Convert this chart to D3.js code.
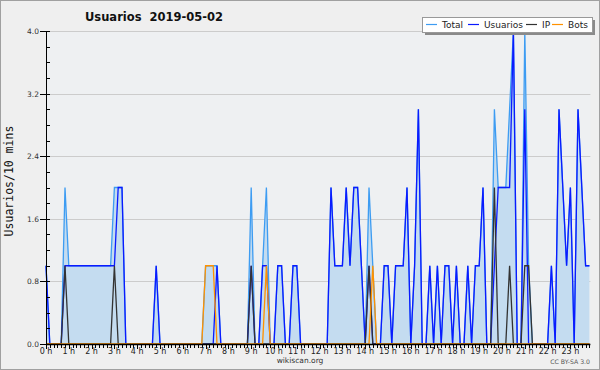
<!DOCTYPE html>
<html>
<head>
<meta charset="utf-8">
<script src="https://cdn.jsdelivr.net/npm/d3@7/dist/d3.min.js"></script>
<style>
body { margin: 0; background: #efefef; }
</style>
</head>
<body>
<div id="chart"></div>
<script>
// one value per 10 minutes, 12 per row = 2 hours
var total = [
  1,0,0,0,0,2,1,1,1,1,1,1,
  1,1,1,1,1,1,2,2,2,0,0,0,
  0,0,0,0,0,1,0,0,0,0,0,0,
  0,0,0,0,0,0,1,1,1,1,0,0,
  0,0,0,0,0,0,2,0,0,1,2,0,
  0,1,1,0,0,1,1,0,0,0,0,0,
  0,0,0,2,1,1,1,2,1,2,2,1,
  0,2,1,0,0,1,1,0,1,1,1,2,
  0,1,3,0,0,1,0,1,0,1,1,0,
  1,0,0,1,0,1,1,2,0,0,3,2,
  2,2,3,4,0,0,4,1,0,0,0,0,
  0,1,0,3,2,1,2,0,3,2,1,1];

var usuarios = [
  1,0,0,0,0,1,1,1,1,1,1,1,
  1,1,1,1,1,1,1,2,2,0,0,0,
  0,0,0,0,0,1,0,0,0,0,0,0,
  0,0,0,0,0,0,0,0,0,1,0,0,
  0,0,0,0,0,0,1,0,0,1,1,0,
  0,1,1,0,0,1,1,0,0,0,0,0,
  0,0,0,2,1,1,1,2,1,2,2,1,
  0,1,0,0,0,1,1,0,1,1,1,2,
  0,1,3,0,0,1,0,1,0,1,1,0,
  1,0,0,1,0,1,1,2,0,0,1,2,
  2,2,2,4,0,0,3,0,0,0,0,0,
  0,1,0,3,2,1,2,0,3,2,1,1];

var ip = [
  0,0,0,0,0,1,0,0,0,0,0,0,
  0,0,0,0,0,0,1,0,0,0,0,0,
  0,0,0,0,0,0,0,0,0,0,0,0,
  0,0,0,0,0,0,0,0,0,0,0,0,
  0,0,0,0,0,0,1,0,0,0,0,0,
  0,0,0,0,0,0,0,0,0,0,0,0,
  0,0,0,0,0,0,0,0,0,0,0,0,
  0,1,0,0,0,0,0,0,0,0,0,0,
  0,0,0,0,0,0,0,0,0,0,0,0,
  0,0,0,0,0,0,0,0,0,0,2,0,
  0,0,1,0,0,0,1,1,0,0,0,0,
  0,0,0,0,0,0,0,0,0,0,0,0];

var bots = [
  0,0,0,0,0,0,0,0,0,0,0,0,
  0,0,0,0,0,0,0,0,0,0,0,0,
  0,0,0,0,0,0,0,0,0,0,0,0,
  0,0,0,0,0,0,1,1,1,0,0,0,
  0,0,0,0,0,0,0,0,0,0,1,0,
  0,0,0,0,0,0,0,0,0,0,0,0,
  0,0,0,0,0,0,0,0,0,0,0,0,
  0,0,1,0,0,0,0,0,0,0,0,0,
  0,0,0,0,0,0,0,0,0,0,0,0,
  0,0,0,0,0,0,0,0,0,0,0,0,
  0,0,0,0,0,0,0,0,0,0,0,0,
  0,0,0,0,0,0,0,0,0,0,0,0];

var hourLabels = ["0 h","1 h","2 h","3 h","4 h","5 h","6 h","7 h","8 h","9 h","10 h","11 h",
  "12 h","13 h","14 h","15 h","16 h","17 h","18 h","19 h","20 h","21 h","22 h","23 h"];
var yTicks = [0, 0.8, 1.6, 2.4, 3.2, 4.0];

var series = [
  { name: "Total", values: total, color: "#3d9cf2" },
  { name: "Usuarios", values: usuarios, color: "#0a1aff" },
  { name: "IP", values: ip, color: "#333333" },
  { name: "Bots", values: bots, color: "#ff9200" }
];

var width = 600, height = 370;
var plotLeft = 46, plotRight = 589.4, plotTop = 31, plotBottom = 344;

var svg = d3.select("#chart").append("svg")
  .attr("width", width)
  .attr("height", height)
  .style("display", "block")
  .attr("font-family", "DejaVu Sans");

var x = d3.scaleLinear().domain([0, 143]).range([plotLeft, plotRight]);
var y = d3.scaleLinear().domain([0, 4]).range([plotBottom, plotTop]);

// frame and plot background
svg.append("rect")
  .attr("x", 0.5).attr("y", 0.5)
  .attr("width", width - 1).attr("height", height - 1)
  .attr("fill", "#efefef")
  .attr("stroke", "#a0a0a0");
svg.append("rect")
  .attr("x", plotLeft).attr("y", plotTop)
  .attr("width", plotRight + 1 - plotLeft).attr("height", plotBottom - plotTop)
  .attr("fill", "#eef0f2");

// grid
svg.selectAll("line.grid")
  .data(yTicks.slice(1))
  .enter()
  .append("line")
  .attr("class", "grid")
  .attr("x1", plotLeft).attr("x2", plotRight + 1)
  .attr("y1", function(d) { return Math.round(y(d)) + 0.5; })
  .attr("y2", function(d) { return Math.round(y(d)) + 0.5; })
  .attr("stroke", "#cccccc");

// area under total
var area = d3.area()
  .x(function(d, i) { return x(i); })
  .y0(y(0))
  .y1(function(d) { return y(d); });
svg.append("path")
  .datum(total)
  .attr("d", area)
  .attr("fill", "#c4dcf0");

var line = d3.line()
  .x(function(d, i) { return x(i); })
  .y(function(d) { return y(d); });

series.forEach(function(s) {
  svg.append("path")
    .datum(s.values)
    .attr("d", line)
    .attr("fill", "none")
    .attr("stroke", s.color)
    .attr("stroke-width", 1.3)
    .attr("stroke-linejoin", "miter");
});

// y axis
var yAxis = svg.append("g");
yAxis.append("line")
  .attr("x1", plotLeft + 0.5).attr("x2", plotLeft + 0.5)
  .attr("y1", plotTop).attr("y2", plotBottom + 1)
  .attr("stroke", "#000");
yAxis.selectAll("line.minor")
  .data(d3.range(0, 21))
  .enter()
  .append("line")
  .attr("x1", plotLeft).attr("x2", plotLeft + 4)
  .attr("y1", function(d) { return Math.round(y(d * 0.2)) + 0.5; })
  .attr("y2", function(d) { return Math.round(y(d * 0.2)) + 0.5; })
  .attr("stroke", "#000");
yAxis.selectAll("line.major")
  .data(yTicks)
  .enter()
  .append("line")
  .attr("x1", plotLeft - 6).attr("x2", plotLeft)
  .attr("y1", function(d) { return Math.round(y(d)) + 0.5; })
  .attr("y2", function(d) { return Math.round(y(d)) + 0.5; })
  .attr("stroke", "#000");
yAxis.selectAll("text")
  .data(yTicks)
  .enter()
  .append("text")
  .attr("x", plotLeft - 7)
  .attr("y", function(d) { return y(d) + 3; })
  .attr("text-anchor", "end")
  .attr("font-size", "7.5px")
  .attr("fill", "#333")
  .text(function(d) { return d.toFixed(1); });

// x axis
var xAxis = svg.append("g");
xAxis.append("line")
  .attr("x1", plotLeft).attr("x2", plotRight + 1)
  .attr("y1", plotBottom + 0.5).attr("y2", plotBottom + 0.5)
  .attr("stroke", "#000")
  .attr("stroke-width", 1.5);
xAxis.selectAll("line.tick")
  .data(d3.range(0, 144))
  .enter()
  .append("line")
  .attr("x1", function(d) { return Math.round(x(d)) + 0.5; })
  .attr("x2", function(d) { return Math.round(x(d)) + 0.5; })
  .attr("y1", plotBottom)
  .attr("y2", function(d) { return d % 6 == 0 ? plotBottom + 5 : plotBottom + 4; })
  .attr("stroke", "#000");
xAxis.selectAll("text")
  .data(hourLabels)
  .enter()
  .append("text")
  .attr("x", function(d, i) { return x(i * 6); })
  .attr("y", plotBottom + 10)
  .attr("text-anchor", "middle")
  .attr("font-size", "8px")
  .attr("fill", "#222")
  .text(function(d) { return d; });

// titles
svg.append("text")
  .attr("x", 85).attr("y", 21)
  .attr("font-size", "11.5px")
  .attr("font-weight", "bold")
  .attr("fill", "#111")
  .attr("xml:space", "preserve")
  .style("white-space", "pre")
  .text("Usuarios  2019-05-02");

svg.append("text")
  .attr("transform", "translate(13,181) rotate(-90)")
  .attr("text-anchor", "middle")
  .attr("font-family", "DejaVu Sans Mono")
  .attr("font-size", "11.5px")
  .attr("fill", "#111")
  .text("Usuarios/10 mins");

svg.append("text")
  .attr("x", 300).attr("y", 363)
  .attr("text-anchor", "middle")
  .attr("font-size", "7.5px")
  .attr("fill", "#333")
  .text("wikiscan.org");

svg.append("text")
  .attr("x", 590).attr("y", 364)
  .attr("text-anchor", "end")
  .attr("font-size", "6.2px")
  .attr("fill", "#555")
  .text("CC BY-SA 3.0");

// legend
var legend = svg.append("g");
legend.append("rect")
  .attr("x", 425).attr("y", 20)
  .attr("width", 170).attr("height", 15)
  .attr("fill", "#8a8a8a");
legend.append("rect")
  .attr("x", 422.5).attr("y", 17.5)
  .attr("width", 170).attr("height", 15)
  .attr("fill", "#fff")
  .attr("stroke", "#999");
var legendX = [426, 468, 526, 552];
var items = legend.selectAll("g.item")
  .data(series)
  .enter()
  .append("g")
  .attr("transform", function(d, i) { return "translate(" + legendX[i] + ",0)"; });
items.append("line")
  .attr("x1", 0).attr("x2", 11)
  .attr("y1", 24.5).attr("y2", 24.5)
  .attr("stroke", function(d) { return d.color; })
  .attr("stroke-width", 1.2);
items.append("text")
  .attr("x", 16).attr("y", 28.3)
  .attr("font-size", "9px")
  .attr("fill", "#222")
  .text(function(d) { return d.name; });
</script>
</body>
</html>
